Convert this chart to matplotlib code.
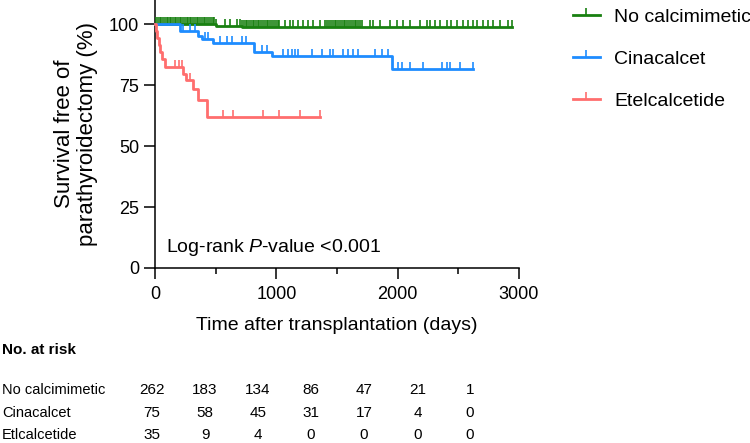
import numpy as np
import matplotlib
matplotlib.use("Agg")
import matplotlib.pyplot as plt
from matplotlib.lines import Line2D

plt.rcParams["font.family"] = ["Liberation Sans", "DejaVu Sans"]
plt.rcParams["mathtext.fontset"] = "custom"
plt.rcParams["mathtext.rm"] = "Liberation Sans"
plt.rcParams["mathtext.it"] = "Liberation Sans:italic"

# --- data ---
groups = ["No calcimimetic", "Cinacalcet", "Etelcalcetide"]
colors = ["#188010", "#1e8cff", "#ff6e6e"]

# step curves: event times (days) and survival (%) after each event
green_t = [0, 500, 714]
green_s = [100, 99.5, 98.9]
green_end = 2945
green_cens = [12, 25, 40, 52, 66, 80, 95, 108, 120, 135, 150, 162, 175, 190,
              205, 218, 232, 246, 260, 275, 288, 300, 315, 330, 345, 358, 372,
              385, 400, 415, 430, 445, 460, 478, 490, 505, 580, 620, 675, 700,
              720, 735, 748, 762, 776, 790, 805, 818, 832, 846, 860, 875, 890,
              905, 920, 935, 950, 965, 980, 995, 1010, 1025, 1071, 1110, 1140,
              1180, 1222, 1260, 1305, 1360, 1401, 1420, 1435, 1450, 1465, 1480,
              1495, 1510, 1525, 1540, 1555, 1570, 1585, 1600, 1615, 1630, 1645,
              1660, 1675, 1690, 1705, 1772, 1800, 1854, 1937, 1992, 2047, 2102,
              2184, 2239, 2270, 2308, 2349, 2404, 2440, 2486, 2541, 2580, 2624,
              2651, 2706, 2747, 2788, 2843, 2912, 2945]

blue_t = [0, 206, 356, 384, 475, 818, 961, 1950]
blue_s = [100, 97.1, 95.2, 94.1, 92.5, 88.7, 86.9, 81.8]
blue_end = 2623
blue_cens = [233, 288, 330, 412, 440, 536, 591, 632, 714, 750, 879, 920,
             1058, 1099, 1126, 1154, 1181, 1291, 1374, 1442, 1470, 1552, 1593,
             1635, 1676, 1813, 1868, 1923, 2006, 2033, 2102, 2212, 2363, 2404,
             2431, 2514, 2623]

red_t = [0, 10, 20, 30, 45, 60, 80, 228, 255, 310, 351, 431]
red_s = [100, 97.1, 94.3, 91.4, 88.6, 85.7, 82.6, 79.5, 77.0, 73.5, 69.0, 62.0]
red_end = 1360
red_cens = [165, 200, 220, 288, 563, 640, 886, 1023, 1194, 1360]

risk_labels = ["No calcimimetic", "Cinacalcet", "Etlcalcetide"]
risk_counts = [[262, 183, 134, 86, 47, 21, 1],
               [75, 58, 45, 31, 17, 4, 0],
               [35, 9, 4, 0, 0, 0, 0]]

curves = [(green_t, green_s, green_end, green_cens),
          (blue_t, blue_s, blue_end, blue_cens),
          (red_t, red_s, red_end, red_cens)]

fig = plt.figure(figsize=(7.5, 4.43), dpi=100)
ax = fig.add_axes([155 / 750, 1 - 268 / 443, 364 / 750, 268 / 443])

handles = []
for (t, s, end, cens), col, name in zip(curves, colors, groups):
    tt = list(t) + [end]
    ss = list(s) + [s[-1]]
    ax.step(tt, ss, where="post", color=col, lw=2.0, clip_on=False,
            zorder=3)
    idx = np.searchsorted(t, cens, side="right") - 1
    ax.plot(cens, np.array(s)[idx], ls="none", marker=2, ms=5, mew=1.2,
            color=col, clip_on=False, zorder=3)
    handles.append(Line2D([0], [0], color=col, lw=2.0, marker=2, ms=5,
                          mew=1.2))

ax.set_xlim(0, 3000)
ax.set_ylim(0, 110)
ax.set_xticks([0, 1000, 2000, 3000])
ax.set_xticks([500, 1500, 2500], minor=True)
ax.set_yticks([0, 25, 50, 75, 100])
ax.tick_params(axis="both", which="major", labelsize=13, length=8, width=1.1)
ax.tick_params(axis="x", which="major", pad=5)
ax.tick_params(axis="x", which="minor", length=4.5, width=1.1)
for side in ["top", "right"]:
    ax.spines[side].set_visible(False)
for side in ["left", "bottom"]:
    ax.spines[side].set_linewidth(1.1)

ax.set_xlabel("Time after transplantation (days)", fontsize=14, labelpad=10)
ax.set_ylabel("Survival free of\nparathyroidectomy (%)", fontsize=16,
              labelpad=8, linespacing=1.1)
ax.text(90, 8.6, "Log-rank $P$-value <0.001", fontsize=14, va="center")

fig.legend(handles, groups, loc="upper left", bbox_to_anchor=(0.74, 1.02),
           frameon=False, fontsize=14, handlelength=1.4, labelspacing=1.25,
           handletextpad=0.75)

# number-at-risk table
fig.text(2 / 750, 1 - 350 / 443, "No. at risk", fontsize=11,
         fontweight="bold", va="center")
col_x = [152, 205, 258, 311, 364, 418, 470]
row_y = [390, 413, 435]
for lab, counts, y in zip(risk_labels, risk_counts, row_y):
    fig.text(2 / 750, 1 - y / 443, lab, fontsize=10.5, va="center")
    for x, n in zip(col_x, counts):
        fig.text(x / 750, 1 - y / 443, str(n), fontsize=11, va="center",
                 ha="center")

fig.savefig("out.png", dpi=100)
